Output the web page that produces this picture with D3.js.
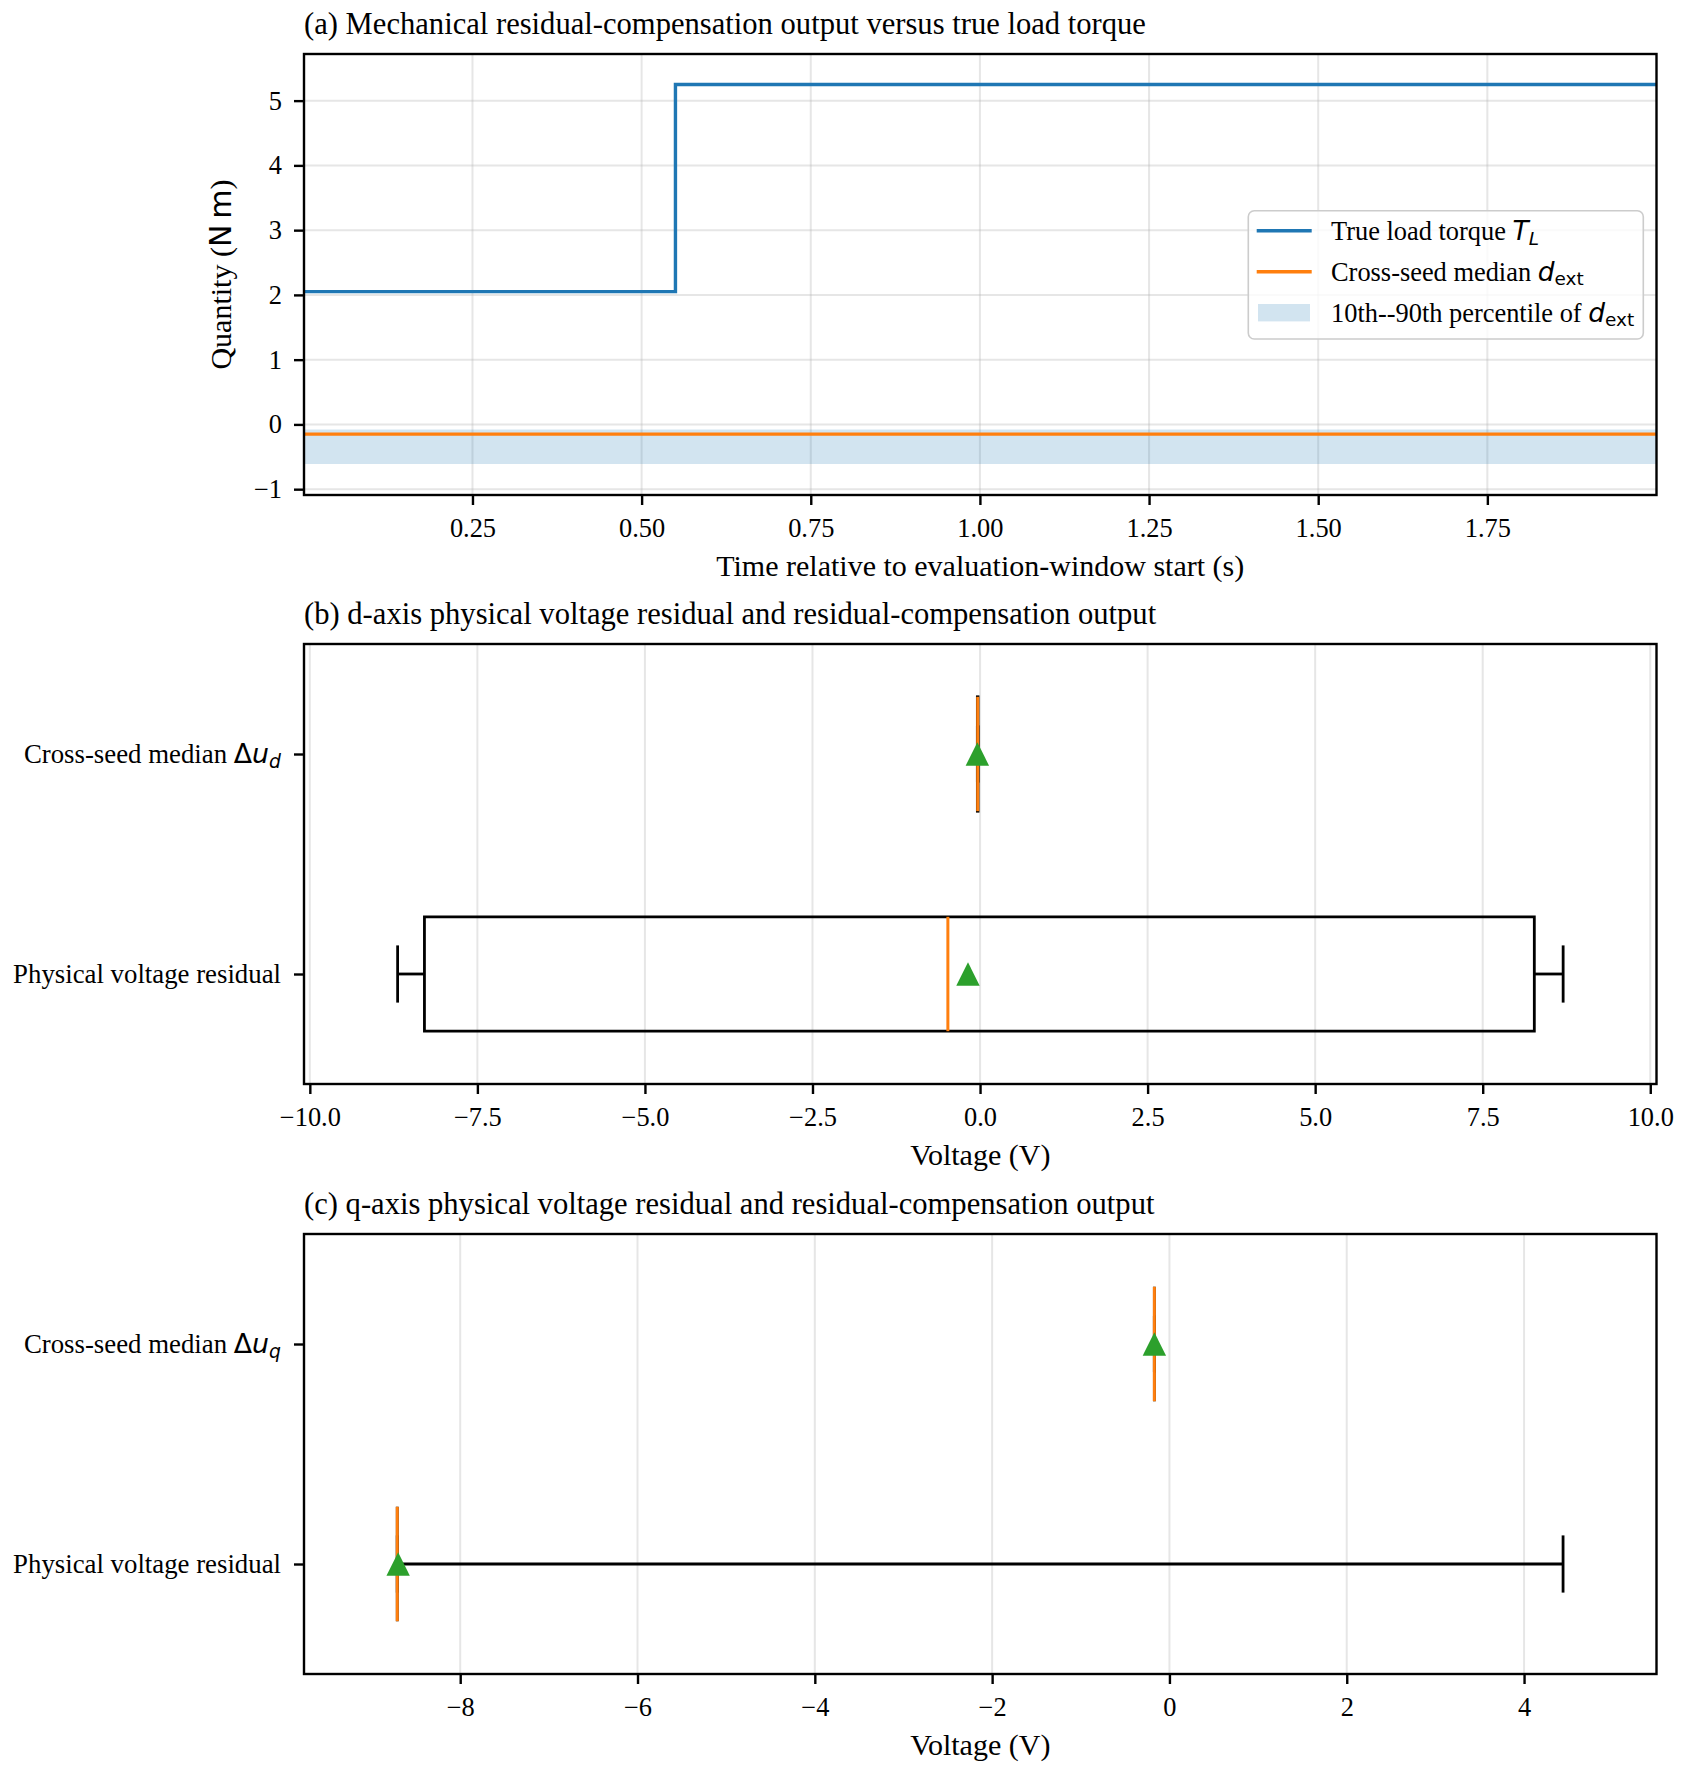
<!DOCTYPE html>
<html><head><meta charset="utf-8">
<script src="https://cdn.jsdelivr.net/npm/d3@7"></script>
<style>body{margin:0;background:#fff} svg{display:block}</style>
</head><body><div id="chart"></div>
<script>
// ---------- Panel (a) data ----------
const timeS = [0.0, 0.55, 2.0];
const trueTorque = [2.05, 5.25, 5.25];
const dextMedian = [-0.15, -0.15, -0.15];
const dextP10 = [-0.61, -0.61, -0.61];
const dextP90 = [-0.08, -0.08, -0.08];
const timeTicks = [0.25, 0.5, 0.75, 1.0, 1.25, 1.5, 1.75];
const torqueTicks = [-1, 0, 1, 2, 3, 4, 5];
const legendLabels = ["True load torque $T_L$", "Cross-seed median $d_{ext}$", "10th--90th percentile of $d_{ext}$"];

// ---------- Panel (b) data (positions 1, 2) ----------
const dCategories = ["Physical voltage residual", "Cross-seed median $\u0394u_d$"];
const dWhiskerLow = [-8.69, -0.04];
const dQ1 = [-8.29, -0.04];
const dMedian = [-0.48, -0.035];
const dQ3 = [8.27, -0.03];
const dWhiskerHigh = [8.70, -0.03];
const dMean = [-0.18, -0.04];
const dTicks = [-10, -7.5, -5, -2.5, 0, 2.5, 5, 7.5, 10];

// ---------- Panel (c) data ----------
const qCategories = ["Physical voltage residual", "Cross-seed median $\u0394u_q$"];
const qWhiskerLow = [-8.71, -0.17];
const qQ1 = [-8.71, -0.17];
const qMedian = [-8.71, -0.17];
const qQ3 = [-8.71, -0.17];
const qWhiskerHigh = [4.44, -0.17];
const qMean = [-8.70, -0.17];
const qTicks = [-8, -6, -4, -2, 0, 2, 4];

const titles = [
  "(a) Mechanical residual-compensation output versus true load torque",
  "(b) d-axis physical voltage residual and residual-compensation output",
  "(c) q-axis physical voltage residual and residual-compensation output"
];

// ---------- layout ----------
const W = 1687, H = 1777;
const SERIF = "'Liberation Serif','Times New Roman',serif";
const MATH = "'DejaVu Sans',sans-serif";
const TICK_FS = 26.4, CAT_FS = 26.8, LABEL_FS = 30, TITLE_FS = 30.6, LEG_FS = 26.4;
const L = 304, R = 1656.5;
const P = [{top: 54, bottom: 495}, {top: 644, bottom: 1084}, {top: 1234, bottom: 1674}];
const BLUE = "#1f77b4", ORANGE = "#ff7f0e", GREEN = "#2ca02c";

const svg = d3.select("#chart").append("svg")
  .attr("width", W).attr("height", H).attr("viewBox", `0 0 ${W} ${H}`);
svg.append("rect").attr("width", W).attr("height", H).attr("fill", "#fff");

function richText(sel, str, fs) {
  const parts = str.split("$");
  parts.forEach((p, i) => {
    if (!p) return;
    if (i % 2 === 0) { sel.append("tspan").attr("font-family", SERIF).text(p); return; }
    let j = 0;
    while (j < p.length) {
      const ch = p[j];
      if (ch === "_") {
        let sub;
        if (p[j + 1] === "{") { const k = p.indexOf("}", j); sub = p.slice(j + 2, k); j = k + 1; }
        else { sub = p[j + 1]; j += 2; }
        const upright = sub.length > 1;
        sel.append("tspan").attr("font-family", MATH)
          .attr("font-style", upright ? "normal" : "italic")
          .attr("font-size", fs * 0.7).attr("dy", fs * (upright ? 0.16 : 0.2)).text(sub);
      } else {
        const greek = /[\u0391-\u03c9]/.test(ch);
        sel.append("tspan").attr("font-family", MATH)
          .attr("font-style", greek ? "normal" : "italic").text(ch);
        j++;
      }
    }
  });
}

function styleAxis(g, fs) {
  g.select(".domain").remove();
  g.selectAll(".tick line").attr("stroke", "#000").attr("stroke-width", 2.4);
  g.selectAll(".tick text").attr("font-family", SERIF).attr("font-size", fs).attr("fill", "#000");
  g.attr("font-family", SERIF).attr("font-size", fs);
}

function frame(p) {
  svg.append("rect").attr("x", L).attr("y", p.top).attr("width", R - L).attr("height", p.bottom - p.top)
    .attr("fill", "none").attr("stroke", "#000").attr("stroke-width", 2.4);
}

function title(p, t) {
  svg.append("text").attr("x", L).attr("y", p.top - 20)
    .attr("font-family", SERIF).attr("font-size", TITLE_FS).attr("fill", "#000").text(t);
}

function xLabel(p, t) {
  svg.append("text").attr("x", (L + R) / 2).attr("y", p.bottom + 81)
    .attr("text-anchor", "middle").attr("font-family", SERIF).attr("font-size", LABEL_FS).text(t);
}

function grid(x, ticks, p, y, yTicks) {
  const g = svg.append("g").attr("stroke", "#b0b0b0").attr("stroke-opacity", 0.32).attr("stroke-width", 2);
  ticks.forEach(t => g.append("line").attr("x1", x(t)).attr("x2", x(t)).attr("y1", p.top).attr("y2", p.bottom));
  if (y) yTicks.forEach(t => g.append("line").attr("x1", L).attr("x2", R).attr("y1", y(t)).attr("y2", y(t)));
}

// ================= Panel (a) =================
{
  const p = P[0];
  const x = d3.scaleLinear().domain([0.001, 2.0]).range([L, R]);
  const y = d3.scaleLinear().domain([-1.09, 5.72]).range([p.bottom, p.top]);
  grid(x, timeTicks, p, y, torqueTicks);

  svg.append("clipPath").attr("id", "clipA").append("rect")
    .attr("x", L).attr("y", p.top).attr("width", R - L).attr("height", p.bottom - p.top);
  const gd = svg.append("g").attr("clip-path", "url(#clipA)");
  const idx = d3.range(timeS.length);
  gd.append("path").datum(idx)
    .attr("d", d3.area().x(i => x(timeS[i])).y0(i => y(dextP10[i])).y1(i => y(dextP90[i])))
    .attr("fill", BLUE).attr("fill-opacity", 0.2);
  gd.append("path").datum(idx)
    .attr("d", d3.line().curve(d3.curveStepAfter).x(i => x(timeS[i])).y(i => y(trueTorque[i])))
    .attr("fill", "none").attr("stroke", BLUE).attr("stroke-width", 3.4);
  gd.append("path").datum(idx)
    .attr("d", d3.line().x(i => x(timeS[i])).y(i => y(dextMedian[i])))
    .attr("fill", "none").attr("stroke", ORANGE).attr("stroke-width", 3.4);

  svg.append("g").attr("transform", `translate(0,${p.bottom})`)
    .call(d3.axisBottom(x).tickValues(timeTicks).tickFormat(d3.format(".2f")).tickSize(10).tickPadding(13))
    .call(g => styleAxis(g, TICK_FS));
  svg.append("g").attr("transform", `translate(${L},0)`)
    .call(d3.axisLeft(y).tickValues(torqueTicks).tickFormat(d3.format("d")).tickSize(10).tickPadding(12))
    .call(g => styleAxis(g, TICK_FS));
  frame(p);
  title(p, titles[0]);
  xLabel(p, "Time relative to evaluation-window start (s)");

  const yl = svg.append("text").attr("transform", `translate(231,${(p.top + p.bottom) / 2}) rotate(-90)`)
    .attr("text-anchor", "middle").attr("font-size", LABEL_FS);
  yl.append("tspan").attr("font-family", SERIF).text("Quantity (");
  yl.append("tspan").attr("font-family", MATH).text("N\u2009m");
  yl.append("tspan").attr("font-family", SERIF).text(")");

  // legend
  const lg = svg.append("g");
  lg.append("rect").attr("x", 1248.3).attr("y", 210.7).attr("width", 395).attr("height", 128.3)
    .attr("rx", 6).attr("fill", "#fff").attr("fill-opacity", 0.8).attr("stroke", "#cccccc").attr("stroke-width", 1.6);
  const rowY = [230.7, 271.7, 312.7];
  lg.append("line").attr("x1", 1256.7).attr("x2", 1311.7).attr("y1", rowY[0]).attr("y2", rowY[0])
    .attr("stroke", BLUE).attr("stroke-width", 3.4);
  lg.append("line").attr("x1", 1256.7).attr("x2", 1311.7).attr("y1", rowY[1]).attr("y2", rowY[1])
    .attr("stroke", ORANGE).attr("stroke-width", 3.4);
  lg.append("rect").attr("x", 1258).attr("y", rowY[2] - 8.7).attr("width", 52).attr("height", 17.4)
    .attr("fill", BLUE).attr("fill-opacity", 0.2);
  legendLabels.forEach((t, i) => {
    const tx = lg.append("text").attr("x", 1331).attr("y", rowY[i] + 9.3).attr("font-size", LEG_FS).attr("fill", "#000");
    richText(tx, t, LEG_FS);
  });
}

// ================= Box panels =================
function boxPanel(p, ttl, domain, ticks, fmt, cats, wlo, q1, med, q3, whi, mean) {
  const x = d3.scaleLinear().domain(domain).range([L, R]);
  const y = d3.scaleLinear().domain([0.5, 2.5]).range([p.bottom, p.top]);
  grid(x, ticks, p);
  const half = 0.26, capHalf = 0.13;
  const g = svg.append("g");
  cats.forEach((c, i) => {
    const pos = i + 1, cy = y(pos);
    const lw = 2.8;
    g.append("line").attr("x1", x(wlo[i])).attr("x2", x(q1[i])).attr("y1", cy).attr("y2", cy).attr("stroke", "#000").attr("stroke-width", lw);
    g.append("line").attr("x1", x(q3[i])).attr("x2", x(whi[i])).attr("y1", cy).attr("y2", cy).attr("stroke", "#000").attr("stroke-width", lw);
    [wlo[i], whi[i]].forEach(v => g.append("line").attr("x1", x(v)).attr("x2", x(v))
      .attr("y1", y(pos - capHalf)).attr("y2", y(pos + capHalf)).attr("stroke", "#000").attr("stroke-width", lw));
    const x1 = x(q1[i]), x2 = x(q3[i]), yt = y(pos + half), yb = y(pos - half);
    g.append("path").attr("d", `M${x1},${yt}H${x2}V${yb}H${x1}Z`).attr("fill", "none")
      .attr("stroke", "#000").attr("stroke-width", lw).attr("stroke-linejoin", "miter");
    g.append("line").attr("x1", x(med[i])).attr("x2", x(med[i])).attr("y1", yt).attr("y2", yb)
      .attr("stroke", ORANGE).attr("stroke-width", 3);
    const mx = x(mean[i]), s = 11.7;
    g.append("path").attr("d", `M${mx},${cy - s}L${mx + s},${cy + s}L${mx - s},${cy + s}Z`).attr("fill", GREEN);
  });

  svg.append("g").attr("transform", `translate(0,${p.bottom})`)
    .call(d3.axisBottom(x).tickValues(ticks).tickFormat(d3.format(fmt)).tickSize(10).tickPadding(13))
    .call(gg => styleAxis(gg, TICK_FS));
  const ya = svg.append("g").attr("transform", `translate(${L},0)`)
    .call(d3.axisLeft(y).tickValues([1, 2]).tickFormat(() => "").tickSize(10).tickPadding(13))
    .call(gg => styleAxis(gg, CAT_FS));
  ya.selectAll(".tick text").each(function (d) {
    const t = d3.select(this);
    t.text(null);
    richText(t, cats[d - 1], CAT_FS);
  });
  frame(p);
  title(p, ttl);
  xLabel(p, "Voltage (V)");
}

boxPanel(P[1], titles[1], [-10.087, 10.093], dTicks, ".1f", dCategories,
  dWhiskerLow, dQ1, dMedian, dQ3, dWhiskerHigh, dMean);
boxPanel(P[2], titles[2], [-9.762, 5.494], qTicks, "d", qCategories,
  qWhiskerLow, qQ1, qMedian, qQ3, qWhiskerHigh, qMean);
</script>
</body></html>
